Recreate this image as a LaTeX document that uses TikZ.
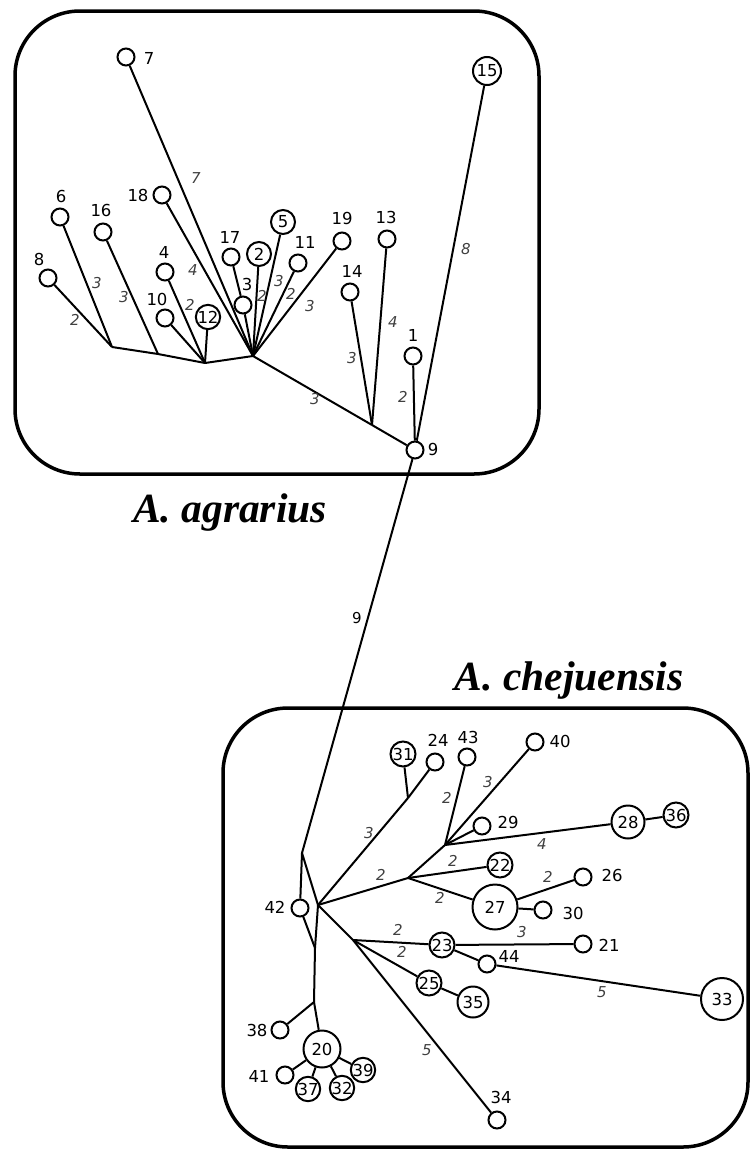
\documentclass[tikz,border=0pt]{standalone}
\usepackage{fontspec}
\newfontfamily\labfont{DejaVu Sans}
\newfontfamily\titfont{Liberation Serif}
\begin{document}
\begin{tikzpicture}[x=1pt,y=-1pt,
 hp/.style={circle,draw,line width=2pt,fill=white,inner sep=0pt,minimum size=17pt,font=\labfont\fontsize{16.5}{16.5}\selectfont},
 lb/.style={inner sep=0pt,font=\labfont\fontsize{16.5}{16.5}\selectfont},
 wt/.style={inner sep=0pt,font=\labfont\itshape\fontsize{15}{15}\selectfont,text=black!75},
 ed/.style={line width=2pt},
 frame/.style={line width=3.5pt,rounded corners=65pt},
 ttl/.style={inner sep=0pt,anchor=base,font=\titfont\bfseries\itshape\fontsize{41.5}{41.5}\selectfont}]
\useasboundingbox (0,0) rectangle (750,1151);
% frames
\draw[frame] (15,11) rectangle (539,474);
\draw[frame] (223,708) rectangle (748,1147);
\node[ttl] (tagr) at (230,522) {A. agrarius};
\node[ttl] (tche) at (569,690) {A. chejuensis};

% ---------- A. agrarius ----------
\node[hp] (n7) at (126,57) {};
\node[hp,minimum size=28pt] (n15) at (487,71) {15};
\node[hp] (n6) at (60,217) {};
\node[hp] (n16) at (103,232) {};
\node[hp] (n8) at (48,278) {};
\node[hp] (n18) at (162,195) {};
\node[hp] (n4) at (165,272) {};
\node[hp] (n10) at (165,318) {};
\node[hp,minimum size=24pt] (n12) at (208,317) {12};
\node[hp] (n17) at (231,257) {};
\node[hp,minimum size=24pt] (n2) at (259,254) {2};
\node[hp] (n3) at (243,305) {};
\node[hp,minimum size=24pt] (n5) at (283,222) {5};
\node[hp] (n11) at (298,263) {};
\node[hp] (n19) at (342,241) {};
\node[hp] (n13) at (387,239) {};
\node[hp] (n14) at (350,292) {};
\node[hp] (n1) at (413,356) {};
\node[hp] (n9) at (415,450) {};

\node[lb] (l7) at (149,58) {7};
\node[lb] (l6) at (61,196) {6};
\node[lb] (l16) at (101,210) {16};
\node[lb] (l8) at (39,259) {8};
\node[lb] (l18) at (138,195) {18};
\node[lb] (l4) at (164,252) {4};
\node[lb] (l10) at (157,299) {10};
\node[lb] (l17) at (230,237) {17};
\node[lb] (l3) at (247,284) {3};
\node[lb] (l11) at (305,242) {11};
\node[lb] (l19) at (342,218) {19};
\node[lb] (l13) at (386,217) {13};
\node[lb] (l14) at (352,271) {14};
\node[lb] (l1) at (413,335) {1};
\node[lb] (l9) at (433,449) {9};

\coordinate (J1) at (112,347);
\coordinate (J2) at (158,354);
\coordinate (J3) at (205,363);
\coordinate (H) at (253,356);
\coordinate (J4) at (372,425);
\coordinate (J5) at (302,853);

\draw[ed] (n6) -- (J1);
\draw[ed] (n8) -- (J1);
\draw[ed,line join=round] (J1) -- (J2) -- (J3) -- (H);
\draw[ed] (n16) -- (J2);
\draw[ed] (n4) -- (J3);
\draw[ed] (n10) -- (J3);
\draw[ed] (n12) -- (J3);
\draw[ed] (n7) -- (H);
\draw[ed] (n18) -- (H);
\draw[ed] (n17) -- (n3);
\draw[ed] (n3) -- (H);
\draw[ed] (n2) -- (H);
\draw[ed] (n5) -- (H);
\draw[ed] (n11) -- (H);
\draw[ed] (n19) -- (H);
\draw[ed] (H) -- (J4);
\draw[ed] (n14) -- (J4);
\draw[ed] (n13) -- (J4);
\draw[ed] (J4) -- (n9);
\draw[ed] (n1) -- (n9);
\draw[ed] (n15) -- (n9);
\draw[ed] (n9) -- (J5);

\node[wt] (w7) at (196,178) {7};
\node[wt] (w18) at (193,270) {4};
\node[wt] (w6) at (97,283) {3};
\node[wt] (w8) at (75,320) {2};
\node[wt] (w16) at (124,297) {3};
\node[wt] (w4) at (190,305) {2};
\node[wt] (w2) at (262,296) {2};
\node[wt] (w5) at (279,281) {3};
\node[wt] (w11) at (291,294) {2};
\node[wt] (w19) at (310,306) {3};
\node[wt] (wH) at (315,399) {3};
\node[wt] (w14) at (352,358) {3};
\node[wt] (w13) at (393,322) {4};
\node[wt] (w1) at (403,397) {2};
\node[wt] (w15) at (466,249) {8};
\node[lb,font=\labfont\fontsize{15}{15}\selectfont] (w9) at (357,618) {9};

% ---------- A. chejuensis ----------
\node[hp] (n42) at (300,908) {};
\node[hp] (n38) at (280,1030) {};
\node[hp,minimum size=37pt] (n20) at (322,1049) {20};
\node[hp] (n41) at (285,1075) {};
\node[hp,minimum size=23pt] (n37) at (308,1089) {37};
\node[hp,minimum size=23pt] (n32) at (342,1088) {32};
\node[hp,minimum size=23pt] (n39) at (363,1070) {39};
\node[hp,minimum size=25pt] (n31) at (403,754) {31};
\node[hp] (n24) at (435,762) {};
\node[hp] (n43) at (467,757) {};
\node[hp] (n40) at (535,742) {};
\node[hp] (n29) at (482,826) {};
\node[hp,minimum size=33pt] (n28) at (628,822) {28};
\node[hp,minimum size=25pt] (n36) at (676,815) {36};
\node[hp,minimum size=25pt] (n22) at (500,865) {22};
\node[hp,minimum size=45pt] (n27) at (495,907) {27};
\node[hp] (n26) at (583,877) {};
\node[hp] (n30) at (543,910) {};
\node[hp,minimum size=25pt] (n23) at (442,945) {23};
\node[hp] (n21) at (583,944) {};
\node[hp] (n44) at (487,964) {};
\node[hp,minimum size=42pt] (n33) at (722,999) {33};
\node[hp,minimum size=25pt] (n25) at (429,983) {25};
\node[hp,minimum size=31pt] (n35) at (473,1002) {35};
\node[hp] (n34) at (497,1120) {};

\node[lb] (l42) at (275,907) {42};
\node[lb] (l38) at (257,1030) {38};
\node[lb] (l41) at (259,1076) {41};
\node[lb] (l24) at (438,740) {24};
\node[lb] (l43) at (468,737) {43};
\node[lb] (l40) at (560,741) {40};
\node[lb] (l29) at (508,822) {29};
\node[lb] (l26) at (612,875) {26};
\node[lb] (l30) at (573,913) {30};
\node[lb] (l21) at (609,945) {21};
\node[lb] (l44) at (509,956) {44};
\node[lb] (l34) at (501,1097) {34};

\coordinate (H2) at (318,905);
\coordinate (J6) at (315,948);
\coordinate (J7) at (314,1002);
\coordinate (J8) at (408,878);
\coordinate (J9) at (353,940);
\coordinate (J10) at (445,845);
\coordinate (J11) at (408,798);

\draw[ed] (J5) -- (n42);
\draw[ed] (J5) -- (H2);
\draw[ed] (n42) -- (J6);
\draw[ed] (H2) -- (J6);
\draw[ed] (J6) -- (J7);
\draw[ed] (J7) -- (n38);
\draw[ed] (J7) -- (n20);
\draw[ed] (n20) -- (n41);
\draw[ed] (n20) -- (n37);
\draw[ed] (n20) -- (n32);
\draw[ed] (n20) -- (n39);
\draw[ed] (H2) -- (J11);
\draw[ed] (J11) -- (n24);
\draw[ed] (J11) -- (n31);
\draw[ed] (H2) -- (J8);
\draw[ed] (J8) -- (J10);
\draw[ed] (J10) -- (n43);
\draw[ed] (J10) -- (n40);
\draw[ed] (J10) -- (n29);
\draw[ed] (J10) -- (n28);
\draw[ed] (n28) -- (n36);
\draw[ed] (J8) -- (n22);
\draw[ed] (J8) -- (n27);
\draw[ed] (n27) -- (n26);
\draw[ed] (n27) -- (n30);
\draw[ed] (H2) -- (J9);
\draw[ed] (J9) -- (n23);
\draw[ed] (J9) -- (n25);
\draw[ed] (J9) -- (n34);
\draw[ed] (n23) -- (n21);
\draw[ed] (n23) -- (n44);
\draw[ed] (n44) -- (n33);
\draw[ed] (n25) -- (n35);

\node[wt] (v11) at (369,833) {3};
\node[wt] (v8) at (381,875) {2};
\node[wt] (v43) at (447,798) {2};
\node[wt] (v40) at (488,782) {3};
\node[wt] (v28) at (542,844) {4};
\node[wt] (v22) at (453,861) {2};
\node[wt] (v27) at (440,898) {2};
\node[wt] (v26) at (548,877) {2};
\node[wt] (v23) at (398,930) {2};
\node[wt] (v25) at (402,952) {2};
\node[wt] (v21) at (522,932) {3};
\node[wt] (v33) at (602,992) {5};
\node[wt] (v34) at (427,1050) {5};
\end{tikzpicture}
\end{document}
